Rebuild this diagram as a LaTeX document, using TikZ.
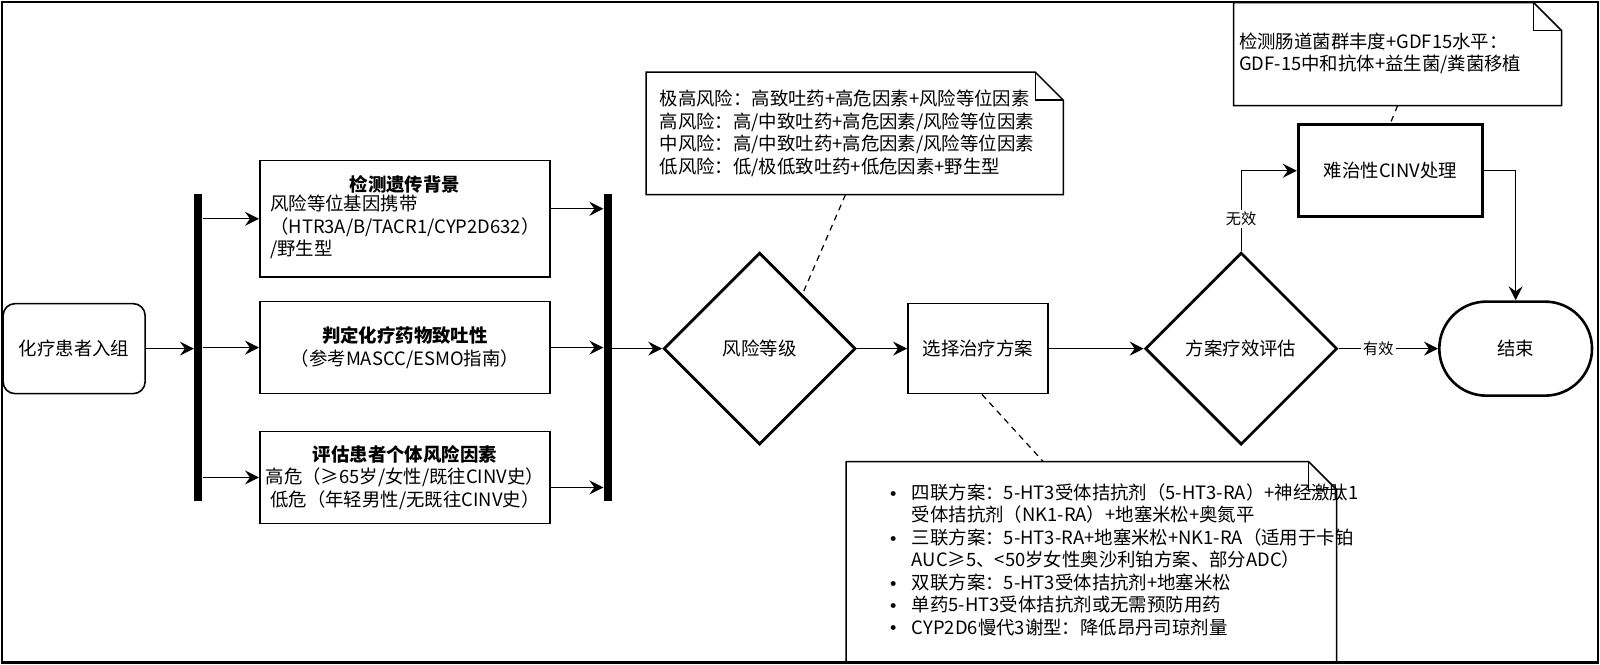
\documentclass[tikz,border=0pt]{standalone}
\usepackage{fontspec}
\setmainfont{Noto Sans CJK SC}
\usetikzlibrary{shapes.geometric,shapes.misc,arrows.meta,calc}

\tikzset{
  box/.style={draw, line width=0.8pt, minimum width=145pt, align=center, inner sep=2pt},
  bar/.style={fill=black, minimum width=4pt, minimum height=153.3pt, inner sep=0pt},
  decision/.style={draw, diamond, aspect=1, line width=1.4pt, minimum width=96pt, minimum height=96pt, inner sep=0pt},
  note/.style={align=left, inner ysep=0pt},
  arr/.style={-{Stealth[length=7pt,width=7pt,inset=2.5pt]}, line width=0.6pt},
  link/.style={dash pattern=on 3pt off 2.5pt, line width=0.6pt},
  lbl/.style={fill=white, inner sep=1pt, font=\fontsize{7.6}{8}\selectfont},
}
% folded corner of a note
\newcommand{\foldnote}[1]{%
  \draw[line width=0.75pt] (#1.south west) -- (#1.north west) -- ([xshift=-14pt]#1.north east)
    -- ([yshift=-14pt]#1.north east) -- (#1.south east) -- cycle;
  \draw[line width=0.75pt] ([xshift=-14pt]#1.north east) |- ([yshift=-14pt]#1.north east);}
\newcommand{\itm}{\makebox[11.2pt][l]{\raisebox{1.6pt}{\fontsize{5}{6}\selectfont$\bullet$}}}

\begin{document}
\begin{tikzpicture}[x=0.511pt, y=-0.511pt, font=\fontsize{9.2}{11.2}\selectfont]
  \useasboundingbox (0,0) rectangle (1565,650);
  \draw[line width=1pt] (2,2) rectangle (1563,648);

  \node[draw, rounded corners=6pt, line width=0.8pt, minimum width=71pt, minimum height=45pt] (start) at (72.5,341) {化疗患者入组};
  \node[bar] (fork) at (194,340) {};

  \node[box, minimum height=58.3pt] (gene) at (396,214) {\textbf{检测遗传背景}\\
    \begin{tabular}{@{}l@{}}风险等位基因携带\\（HTR3A/B/TACR1/CYP2D632）\\/野生型\end{tabular}};
  \node[box, minimum height=46pt] (drug) at (396,340) {\textbf{判定化疗药物致吐性}\\（参考MASCC/ESMO指南）};
  \node[box, minimum height=46pt] (patient) at (396,467) {\textbf{评估患者个体风险因素}\\高危（≥65岁/女性/既往CINV史）\\低危（年轻男性/无既往CINV史）};

  \node[bar] (join) at (594.5,340) {};
  \node[decision] (risk) at (743,341) {风险等级};
  \node[note, text width=195pt, inner xsep=6.6pt, minimum height=60.8pt] (risknote) at (836,130.5)
    {极高风险：高致吐药+高危因素+风险等位因素\\高风险：高/中致吐药+高危因素/风险等位因素\\中风险：高/中致吐药+高危因素/风险等位因素\\低风险：低/极低致吐药+低危因素+野生型};
  \foldnote{risknote}

  \node[box, minimum width=70pt, minimum height=45pt] (plan) at (956.5,341) {选择治疗方案};
  \node[note, text width=201.8pt, inner xsep=21.5pt, minimum height=100.2pt] (plannote) at (1067.5,550)
    {\begin{tabular}{@{}l@{}l@{}}
      \itm & 四联方案：5-HT3受体拮抗剂（5-HT3-RA）+神经激肽1\\
           & 受体拮抗剂（NK1-RA）+地塞米松+奥氮平\\
      \itm & 三联方案：5-HT3-RA+地塞米松+NK1-RA（适用于卡铂\\
           & AUC≥5、<50岁女性奥沙利铂方案、部分ADC）\\
      \itm & 双联方案：5-HT3受体拮抗剂+地塞米松\\
      \itm & 单药5-HT3受体拮抗剂或无需预防用药\\
      \itm & CYP2D6慢代3谢型：降低昂丹司琼剂量
    \end{tabular}};
  \foldnote{plannote}

  \node[decision] (eval) at (1214,341) {方案疗效评估};
  \node[draw, rounded rectangle, line width=1.3pt, minimum width=83pt, minimum height=47pt] (finish) at (1482.5,341) {结束};
  \node[draw, line width=1.6pt, minimum width=92pt, minimum height=46pt] (refract) at (1360,167) {难治性CINV处理};
  \node[note, text width=158.4pt, inner xsep=2.6pt, minimum height=51.1pt, text depth=13.4pt] (refractnote) at (1367,53)
    {检测肠道菌群丰度+GDF15水平：\\GDF-15中和抗体+益生菌/粪菌移植};
  \foldnote{refractnote}

  \draw[arr] (start.east) -- (start.east -| fork.west);
  \draw[arr] (fork.east |- gene) -- (gene.west);
  \draw[arr] (fork.east |- drug) -- (drug.west);
  \draw[arr] (fork.east |- patient) -- (patient.west);
  \draw[arr] ([yshift=5pt]gene.east) -- ([yshift=5pt]gene.east -| join.west);
  \draw[arr] (drug.east) -- (drug.east -| join.west);
  \draw[arr] ([yshift=-5pt]patient.east) -- ([yshift=-5pt]patient.east -| join.west);
  \draw[arr] (join.east |- risk) -- (risk.west);
  \draw[arr] (risk.east) -- (plan.west);
  \draw[arr] (plan.east) -- (eval.west);
  \draw[arr] (eval.east) -- node[lbl, pos=0.4] {有效} (finish.west);
  \draw[arr] (eval.north) |- node[lbl, pos=0.2] {无效} (refract.west);
  \draw[arr] (refract.east) -| (finish.north);

  \draw[link] ($(risknote.south)+(-9,0)$) -- ($(risk.north)!0.44!(risk.east)$);
  \draw[link] ($(plan.south)+(4,0)$) -- ($(plannote.north)+(-47,0)$);
  \draw[link] (refractnote.south) -- (refract.north);
\end{tikzpicture}
\end{document}
